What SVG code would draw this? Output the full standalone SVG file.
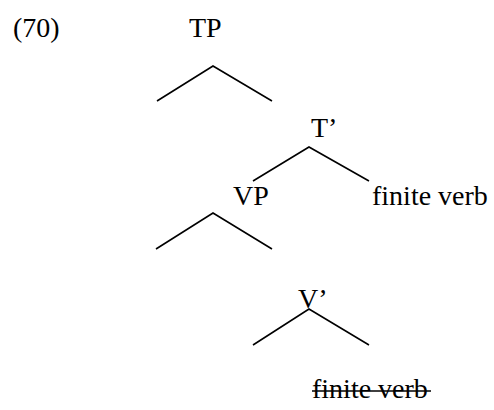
<svg xmlns="http://www.w3.org/2000/svg" width="494" height="410" viewBox="0 0 494 410">
  <style>
    text { font-family: "Liberation Serif", "Times New Roman", serif; font-size: 28px; fill: #000; }
    .branch { stroke: #000; stroke-width: 1.6; fill: none; stroke-linecap: butt; }
  </style>
  <rect width="494" height="410" fill="#fff"/>

  <text id="label-70" x="13" y="37">(70)</text>

  <g id="node-TP"><text x="189" y="37">TP</text></g>
  <g id="node-Tbar"><text x="311" y="137">T’</text></g>
  <g id="node-VP"><text x="233" y="205">VP</text></g>
  <g id="node-finite-verb"><text x="372" y="205">finite verb</text></g>
  <g id="node-Vbar"><text x="298" y="308">V’</text></g>
  <g id="node-finite-verb-trace">
    <text x="312" y="398">finite verb</text>
    <line class="branch" x1="312" y1="391" x2="431" y2="391"/>
  </g>

  <g id="connectors">
    <polyline class="branch" points="157,101 213,66 272,101"/>
    <polyline class="branch" points="253,181 309,147 369,181"/>
    <polyline class="branch" points="156,249 213,213 272,249"/>
    <polyline class="branch" points="253,345 309,309 369,345"/>
  </g>
</svg>
